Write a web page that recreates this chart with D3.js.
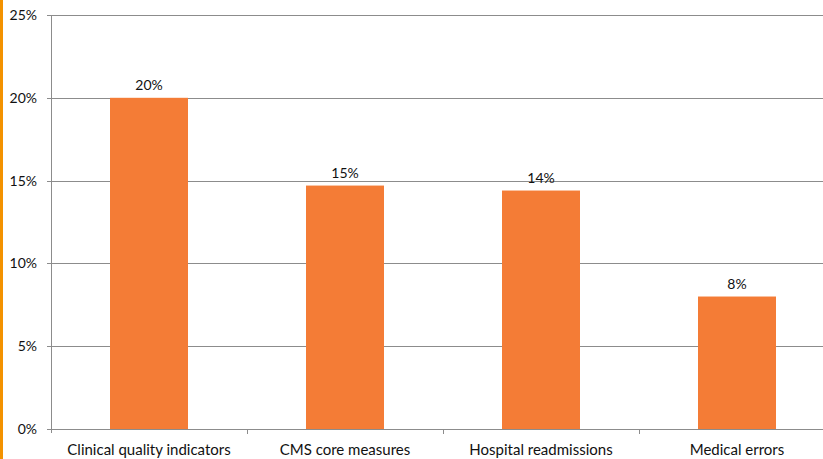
<!DOCTYPE html>
<html><head><meta charset="utf-8">
<script src="https://cdn.jsdelivr.net/npm/d3@7"></script>
<style>body{margin:0;background:#fff}svg{display:block}text{font-family:Lato,"Open Sans",sans-serif;fill:#111}</style>
</head><body>
<svg id="c" width="823" height="459"></svg>
<script>
const categories = ["Clinical quality indicators","CMS core measures","Hospital readmissions","Medical errors"];
const values = [20.0, 14.7, 14.4, 8.0];
const valueLabels = ["20%","15%","14%","8%"];
const yTicks = [0,5,10,15,20,25];

(function(){
const svg = d3.select("#c");
const mLeft = 51, mRight = 835, mTop = 15, mBottom = 429;
svg.append("rect").attr("x",0).attr("y",0).attr("width",3).attr("height",459).attr("fill","#F39200");

const x = d3.scaleBand().domain(categories).range([mLeft,mRight]).paddingInner(0).paddingOuter(0);
const y = d3.scaleLinear().domain([0,25]).range([mBottom,mTop]);

svg.append("g").selectAll("line").data(yTicks).join("line")
  .attr("x1",mLeft-4).attr("x2",823).attr("y1",d=>Math.round(y(d))+0.5).attr("y2",d=>Math.round(y(d))+0.5)
  .attr("stroke","#8c8c8c").attr("stroke-width",1);
svg.append("g").selectAll("text").data(yTicks).join("text")
  .attr("x",37).attr("y",d=>y(d)+5).attr("text-anchor","end").attr("font-size",14).text(d=>d+"%");
svg.append("line").attr("x1",mLeft+0.5).attr("x2",mLeft+0.5).attr("y1",mTop).attr("y2",mBottom+4).attr("stroke","#8c8c8c");
svg.append("g").selectAll("line").data(categories).join("line")
  .attr("x1",d=>Math.round(x(d)+x.bandwidth())+0.5).attr("x2",d=>Math.round(x(d)+x.bandwidth())+0.5)
  .attr("y1",mBottom).attr("y2",mBottom+5).attr("stroke","#8c8c8c");

const bw = 78;
svg.append("g").selectAll("rect").data(values).join("rect")
  .attr("x",(d,i)=>x(categories[i])+x.bandwidth()/2-bw/2).attr("width",bw)
  .attr("y",d=>y(d)).attr("height",d=>mBottom-y(d)).attr("fill","#F47C36");

svg.append("g").selectAll("text").data(values).join("text")
  .attr("x",(d,i)=>x(categories[i])+x.bandwidth()/2).attr("y",d=>y(d)-8)
  .attr("text-anchor","middle").attr("font-size",14).text((d,i)=>valueLabels[i]);

svg.append("g").selectAll("text").data(categories).join("text")
  .attr("x",d=>x(d)+x.bandwidth()/2).attr("y",455)
  .attr("text-anchor","middle").attr("font-size",15).text(d=>d);
})();
</script>
</body></html>
